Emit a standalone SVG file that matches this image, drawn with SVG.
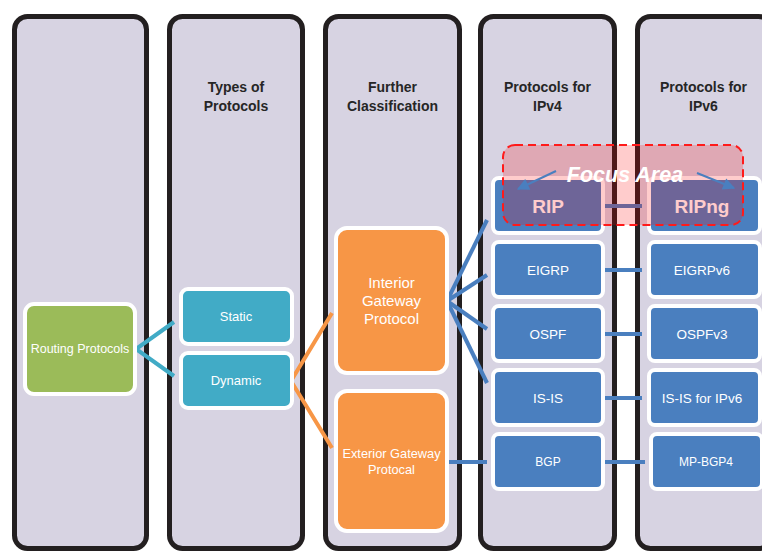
<svg xmlns="http://www.w3.org/2000/svg" width="762" height="552" viewBox="0 0 762 552">
<defs>
<style>
.col{fill:#D7D3E2;stroke:#231F20;stroke-width:5}
.hdr{font-family:"Liberation Sans",Arial,sans-serif;font-weight:bold;font-size:14px;fill:#262626;text-anchor:middle}
.node rect{stroke:#FFFFFF;stroke-width:4}
.t{font-family:"Liberation Sans",Arial,sans-serif;fill:#FFFFFF;text-anchor:middle}
.green{fill:#9BBB59}
.teal{fill:#41ABC6}
.orange{fill:#F79646}
.blue{fill:#4A7FBF}
.cteal{stroke:#41ABC6;stroke-width:4;fill:none}
.corange{stroke:#F79646;stroke-width:4;fill:none}
.cblue{stroke:#4A7FBF;stroke-width:4;fill:none}
</style>
<marker id="ah" viewBox="0 0 10 10" refX="9" refY="5" markerWidth="7" markerHeight="6" orient="auto" markerUnits="strokeWidth">
<path d="M0,0 L10,5 L0,10 z" fill="#4A7FBF"/>
</marker>
</defs>

<g id="columns">
<rect class="col" x="14.5" y="16.5" width="132" height="532" rx="13"/>
<rect class="col" x="169.5" y="16.5" width="133" height="532" rx="13"/>
<rect class="col" x="325.5" y="16.5" width="134" height="532" rx="13"/>
<rect class="col" x="480.5" y="16.5" width="134" height="532" rx="13"/>
<rect class="col" x="637.5" y="16.5" width="134" height="532" rx="13"/>
</g>

<g id="headers">
<text class="hdr" x="236" y="92">Types of</text>
<text class="hdr" x="236" y="111">Protocols</text>
<text class="hdr" x="392.5" y="92">Further</text>
<text class="hdr" x="392.5" y="111">Classification</text>
<text class="hdr" x="547.5" y="92">Protocols for</text>
<text class="hdr" x="547.5" y="111">IPv4</text>
<text class="hdr" x="703.5" y="92">Protocols for</text>
<text class="hdr" x="703.5" y="111">IPv6</text>
</g>

<g id="connectors">
<polyline class="cteal" points="174,322 136,349 174,376"/>
<polyline class="corange" points="332,313 291,381 332,448"/>
<line class="cblue" x1="447" y1="301" x2="487" y2="220"/>
<line class="cblue" x1="447" y1="301" x2="487" y2="275"/>
<line class="cblue" x1="447" y1="301" x2="487" y2="329"/>
<line class="cblue" x1="447" y1="301" x2="487" y2="383"/>
<line class="cblue" x1="448" y1="462" x2="487" y2="462"/>
<line class="cblue" x1="603" y1="206" x2="642" y2="206"/>
<line class="cblue" x1="603" y1="270" x2="642" y2="270"/>
<line class="cblue" x1="603" y1="334" x2="642" y2="334"/>
<line class="cblue" x1="603" y1="398" x2="642" y2="398"/>
<line class="cblue" x1="603" y1="462" x2="645" y2="462"/>
</g>

<g id="routing-protocols" class="node">
<rect class="green" x="25" y="304" width="110" height="90" rx="9"/>
<text class="t" x="80" y="353" font-size="12.5">Routing Protocols</text>
</g>
<g id="static" class="node">
<rect class="teal" x="181" y="289" width="111" height="55" rx="7"/>
<text class="t" x="236" y="321" font-size="13">Static</text>
</g>
<g id="dynamic" class="node">
<rect class="teal" x="181" y="353" width="111" height="55" rx="7"/>
<text class="t" x="236" y="385" font-size="13">Dynamic</text>
</g>
<g id="igp" class="node">
<rect class="orange" x="336" y="228" width="111" height="145" rx="11"/>
<text class="t" x="391.5" y="288" font-size="15">Interior</text>
<text class="t" x="391.5" y="306" font-size="15">Gateway</text>
<text class="t" x="391.5" y="324" font-size="15">Protocol</text>
</g>
<g id="egp" class="node">
<rect class="orange" x="336" y="391" width="111" height="140" rx="11"/>
<text class="t" x="391.5" y="458" font-size="12.8">Exterior Gateway</text>
<text class="t" x="391.5" y="474" font-size="12.8">Protocal</text>
</g>

<g id="rip" class="node">
<rect class="blue" x="493" y="178" width="110" height="55" rx="6"/>
<text class="t" x="548" y="213" font-size="19" font-weight="bold">RIP</text>
</g>
<g id="eigrp" class="node">
<rect class="blue" x="493" y="242" width="110" height="55" rx="6"/>
<text class="t" x="548" y="275" font-size="13.5">EIGRP</text>
</g>
<g id="ospf" class="node">
<rect class="blue" x="493" y="306" width="110" height="55" rx="6"/>
<text class="t" x="548" y="338.5" font-size="13.5">OSPF</text>
</g>
<g id="isis" class="node">
<rect class="blue" x="493" y="370" width="110" height="55" rx="6"/>
<text class="t" x="548" y="402.5" font-size="13.5">IS-IS</text>
</g>
<g id="bgp" class="node">
<rect class="blue" x="493" y="434" width="110" height="55" rx="6"/>
<text class="t" x="548" y="466" font-size="12">BGP</text>
</g>

<g id="ripng" class="node">
<rect class="blue" x="649" y="178" width="111" height="55" rx="6"/>
<text class="t" x="702" y="213" font-size="19" font-weight="bold">RIPng</text>
</g>
<g id="eigrpv6" class="node">
<rect class="blue" x="649" y="242" width="111" height="55" rx="6"/>
<text class="t" x="702" y="275" font-size="13.5">EIGRPv6</text>
</g>
<g id="ospfv3" class="node">
<rect class="blue" x="649" y="306" width="111" height="55" rx="6"/>
<text class="t" x="702" y="338.5" font-size="13.5">OSPFv3</text>
</g>
<g id="isis-ipv6" class="node">
<rect class="blue" x="649" y="370" width="111" height="55" rx="6"/>
<text class="t" x="702" y="402.5" font-size="13.5">IS-IS for IPv6</text>
</g>
<g id="mp-bgp4" class="node">
<rect class="blue" x="651" y="434" width="111" height="55" rx="6"/>
<text class="t" x="706" y="466" font-size="12">MP-BGP4</text>
</g>

<g id="focus-area">
<rect x="503" y="145" width="240" height="80" rx="12" fill="#FF0000" fill-opacity="0.2" stroke="#FF1A1A" stroke-width="2" stroke-dasharray="8,5"/>
<line x1="556" y1="171" x2="518" y2="189" stroke="#4A7FBF" stroke-width="2" marker-end="url(#ah)"/>
<line x1="697" y1="173" x2="734" y2="188" stroke="#4A7FBF" stroke-width="2" marker-end="url(#ah)"/>
<text x="625" y="182" font-family="'Liberation Sans',Arial,sans-serif" font-size="21.5" font-weight="bold" font-style="italic" fill="#FFFFFF" text-anchor="middle">Focus Area</text>
</g>
</svg>
